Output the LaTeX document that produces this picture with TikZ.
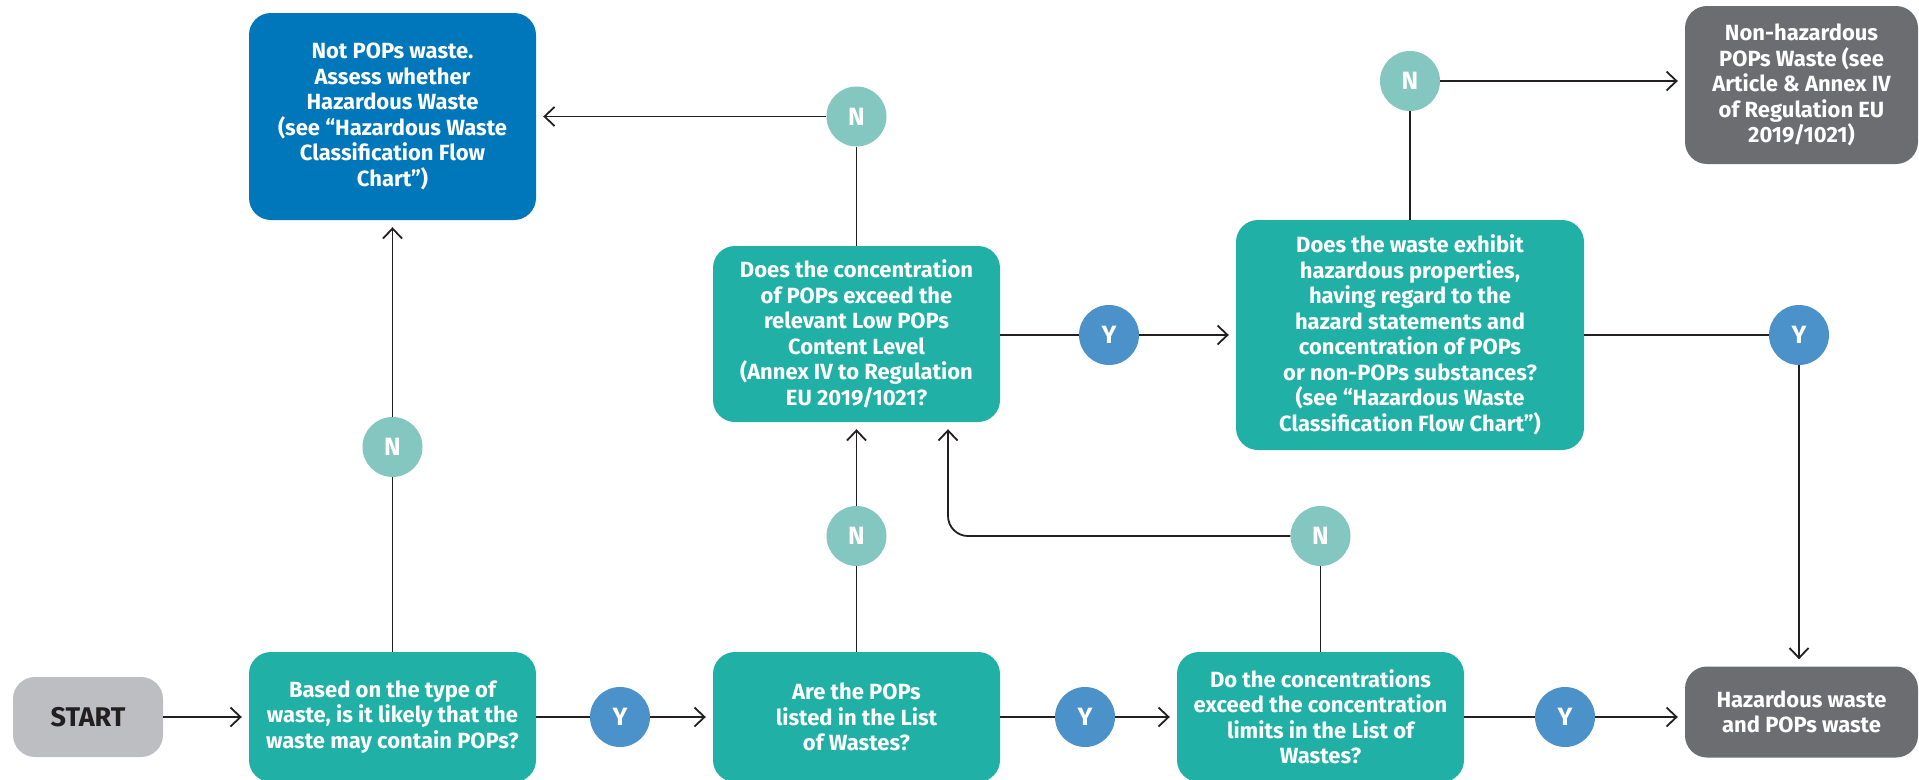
\documentclass[tikz,border=0pt]{standalone}
\usepackage{fontspec}
\setmainfont{Fira Sans}
\usetikzlibrary{arrows.meta}
\definecolor{popteal}{HTML}{20B0A5}
\definecolor{popblue}{HTML}{0077BB}
\definecolor{popgrey}{HTML}{6C6D70}
\definecolor{startgrey}{HTML}{BDBEC1}
\definecolor{nteal}{HTML}{83C7C0}
\definecolor{yblue}{HTML}{4A92C9}
\definecolor{inkline}{HTML}{231F20}

\begin{document}
\begin{tikzpicture}
                \tikzset{x={(1pt, 0pt)}, y={(0pt, -1pt)}}
                \tikzset{box/.style={rounded corners=22pt, text=white, align=center, inner sep=0pt,
                                     font=\bfseries\fontsize{22}{25.5}\selectfont},
                         qbox/.style={box, fill=popteal},
                         endbox/.style={box, fill=popgrey},
                         bub/.style={circle, minimum size=60pt, inner sep=0pt, text=white,
                                     font=\bfseries\fontsize{25}{28}\selectfont},
                         nbub/.style={bub, fill=nteal},
                         ybub/.style={bub, fill=yblue},
                         wire/.style={draw=inkline, line width=1.8pt},
                         link/.style={wire, -{Straight Barb[length=10pt, width=19pt, line width=1.8pt]}, shorten >=7pt}}
                \useasboundingbox (0, 0) rectangle (1919, 779);
                \node[box, fill=startgrey, text=inkline, minimum width=150pt, minimum height=80pt,
                      font=\bfseries\fontsize{27}{30}\selectfont] (start) at (88, 717) {START};
                \node[qbox, minimum width=287pt, minimum height=130pt] (q1) at (392.5, 717)
                    {Based on the type of\\waste, is it likely that the\\waste may contain POPs?};
                \node[qbox, minimum width=287pt, minimum height=130pt] (q2) at (856.5, 717)
                    {Are the POPs\\listed in the List\\of Wastes?};
                \node[qbox, minimum width=287pt, minimum height=130pt] (q3) at (1320.5, 717)
                    {Do the concentrations\\exceed the concentration\\limits in the List of\\Wastes?};
                \node[endbox, minimum width=233pt, minimum height=91pt] (haz) at (1801.5, 712)
                    {Hazardous waste\\and POPs waste};
                \node[box, fill=popblue, minimum width=287pt, minimum height=207pt] (notpops) at (392.5, 116.5)
                    {Not POPs waste.\\Assess whether\\Hazardous Waste\\(see “Hazardous Waste\\Classification Flow\\Chart”)};
                \node[qbox, minimum width=287pt, minimum height=176pt] (low) at (856.5, 334)
                    {Does the concentration\\of POPs exceed the\\relevant Low POPs\\Content Level\\(Annex IV to Regulation\\EU 2019/1021?};
                \node[qbox, minimum width=348pt, minimum height=230pt] (exhibit) at (1410, 335)
                    {Does the waste exhibit\\hazardous properties,\\having regard to the\\hazard statements and\\concentration of POPs\\or non-POPs substances?\\(see “Hazardous Waste\\Classification Flow Chart”)};
                \node[endbox, minimum width=233pt, minimum height=158pt] (nonhaz) at (1801.5, 85)
                    {Non-hazardous\\POPs Waste (see\\Article \& Annex IV\\of Regulation EU\\2019/1021)};
                \node[ybub] (y1) at (620, 717) {Y};
                \node[ybub] (y2) at (1085, 717) {Y};
                \node[ybub] (y3) at (1565, 717) {Y};
                \node[ybub] (ylow) at (1109, 335) {Y};
                \node[ybub] (yexh) at (1799, 335) {Y};
                \node[nbub] (nq1) at (392.5, 447) {N};
                \node[nbub] (nq2) at (856.5, 536) {N};
                \node[nbub] (nq3) at (1320.5, 536) {N};
                \node[nbub] (nlow) at (856.5, 116.5) {N};
                \node[nbub] (nexh) at (1410, 81) {N};
                \coordinate (bend) at (948, 536);
                \draw[link] (start) -- (q1);
                \draw[wire] (q1) -- (y1);
                \draw[link] (y1) -- (q2);
                \draw[wire] (q2) -- (y2);
                \draw[link] (y2) -- (q3);
                \draw[wire] (q3) -- (y3);
                \draw[link] (y3) -- (y3 -| haz.west);
                \draw[wire] (q1) -- (nq1);
                \draw[link] (nq1) -- (notpops);
                \draw[wire] (q2) -- (nq2);
                \draw[link] (nq2) -- (low);
                \draw[wire] (q3) -- (nq3);
                \draw[link, rounded corners=20pt] (nq3) -- (bend) -- (bend |- low.south);
                \draw[wire] (low) -- (nlow);
                \draw[link] (nlow) -- (notpops);
                \draw[wire] (low.east |- ylow) -- (ylow);
                \draw[link] (ylow) -- (exhibit.west |- ylow);
                \draw[wire] (exhibit) -- (nexh);
                \draw[link] (nexh) -- (nexh -| nonhaz.west);
                \draw[wire] (exhibit.east |- yexh) -- (yexh);
                \draw[link] (yexh) -- (yexh |- haz.north);
            \end{tikzpicture}
\end{document}
